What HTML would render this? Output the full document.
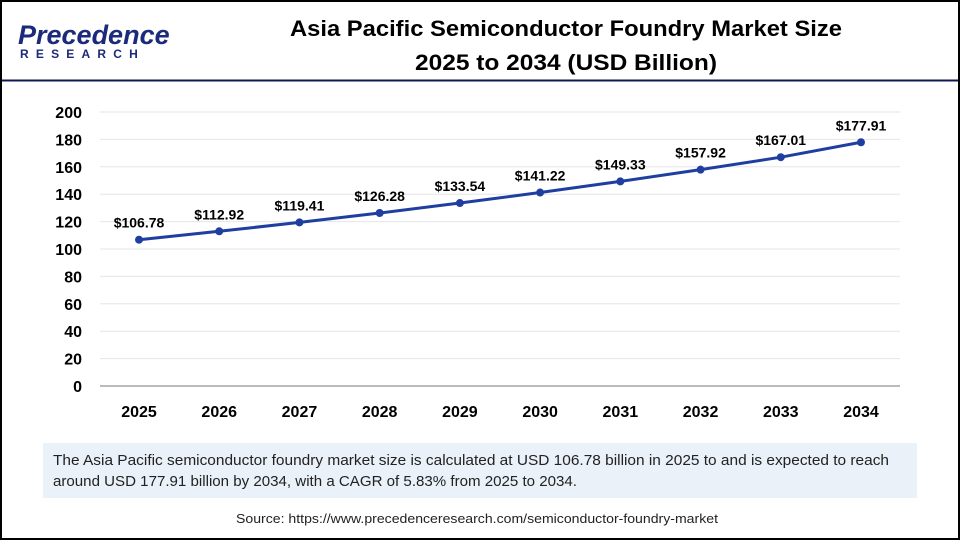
<!DOCTYPE html>
<html><head><meta charset="utf-8"><style>
body{margin:0;width:960px;height:540px;overflow:hidden;background:#fff;font-family:"Liberation Sans",Arial,sans-serif}
#frame{position:absolute;left:0;top:0;width:956px;height:536px;border:2px solid #000}
</style></head><body>
<div id="frame"></div>
<svg width="960" height="540" style="position:absolute;left:0;top:0">
<g>
<text x="18" y="44" font-size="27" font-family="Liberation Sans" fill="#1b2a7a" font-style="italic" font-weight="bold">Precedence</text>
<text x="20" y="58" font-size="12" font-weight="bold" fill="#1b2a7a" letter-spacing="7.2">RESEARCH</text>
</g>
<text x="290" y="36" font-size="22" font-weight="bold" fill="#000" textLength="552" lengthAdjust="spacingAndGlyphs">Asia Pacific Semiconductor Foundry Market Size</text>
<text x="415" y="70" font-size="22" font-weight="bold" fill="#000" textLength="302" lengthAdjust="spacingAndGlyphs">2025 to 2034 (USD Billion)</text>
<line x1="2" y1="80.5" x2="958" y2="80.5" stroke="#0d1a4f" stroke-width="2"/>
<g id="grid"></g><g id="ylab"></g><g id="xlab"></g><g id="series"></g>
<rect x="43" y="443" width="874" height="55" fill="#eaf1f9"/>
<text x="53" y="465" font-size="15" fill="#222" textLength="836" lengthAdjust="spacingAndGlyphs">The Asia Pacific semiconductor foundry market size is calculated at USD 106.78 billion in 2025 to and is expected to reach</text>
<text x="53" y="486" font-size="15" fill="#222" textLength="524" lengthAdjust="spacingAndGlyphs">around USD 177.91 billion by 2034, with a CAGR of 5.83% from 2025 to 2034.</text>
<text x="236" y="523" font-size="13" fill="#222" textLength="482" lengthAdjust="spacingAndGlyphs">Source: https://www.precedenceresearch.com/semiconductor-foundry-market</text>
</svg>
<script>
const categories=["2025","2026","2027","2028","2029","2030","2031","2032","2033","2034"];
const values=[106.78,112.92,119.41,126.28,133.54,141.22,149.33,157.92,167.01,177.91];
const valueLabels=["$106.78","$112.92","$119.41","$126.28","$133.54","$141.22","$149.33","$157.92","$167.01","$177.91"];
const yTicks=[0,20,40,60,80,100,120,140,160,180,200];
const NS="http://www.w3.org/2000/svg";
const y=v=>386-v*(274/200);
const x=i=>139+i*(722/9);
function mk(t,a,p){const e=document.createElementNS(NS,t);for(const k in a)e.setAttribute(k,a[k]);p.appendChild(e);return e;}
const grid=document.getElementById('grid'),yl=document.getElementById('ylab'),xl=document.getElementById('xlab'),s=document.getElementById('series');
yTicks.forEach(t=>{
 const l=mk('line',{x1:100,x2:900,y1:y(t),y2:y(t),stroke:t===0?'#bbb':'#e6e6e6','stroke-width':t===0?2:1},grid);
 
 
 const tx=mk('text',{x:82,y:y(t)+6,'font-size':16,'font-weight':'bold','text-anchor':'end',fill:'#000'},yl);
 tx.textContent=t;
 
 
});
categories.forEach((c,i)=>{
 const tx=mk('text',{x:x(i),y:417,'font-size':16,'font-weight':'bold','text-anchor':'middle',fill:'#000'},xl);
 tx.textContent=c;
 
 
});
const line=mk('polyline',{points:values.map((v,i)=>x(i)+','+y(v)).join(' '),fill:'none',stroke:'#1f3fa0','stroke-width':3},s);


values.forEach((v,i)=>{
 const p=mk('circle',{cx:x(i),cy:y(v),r:4,fill:'#1f3fa0'},s);
 
 
 const t=mk('text',{x:x(i),y:y(v)-12,'font-size':14,'font-weight':'bold','text-anchor':'middle',fill:'#000'},s);
 t.textContent=valueLabels[i];
 
 
});
</script>
</body></html>
